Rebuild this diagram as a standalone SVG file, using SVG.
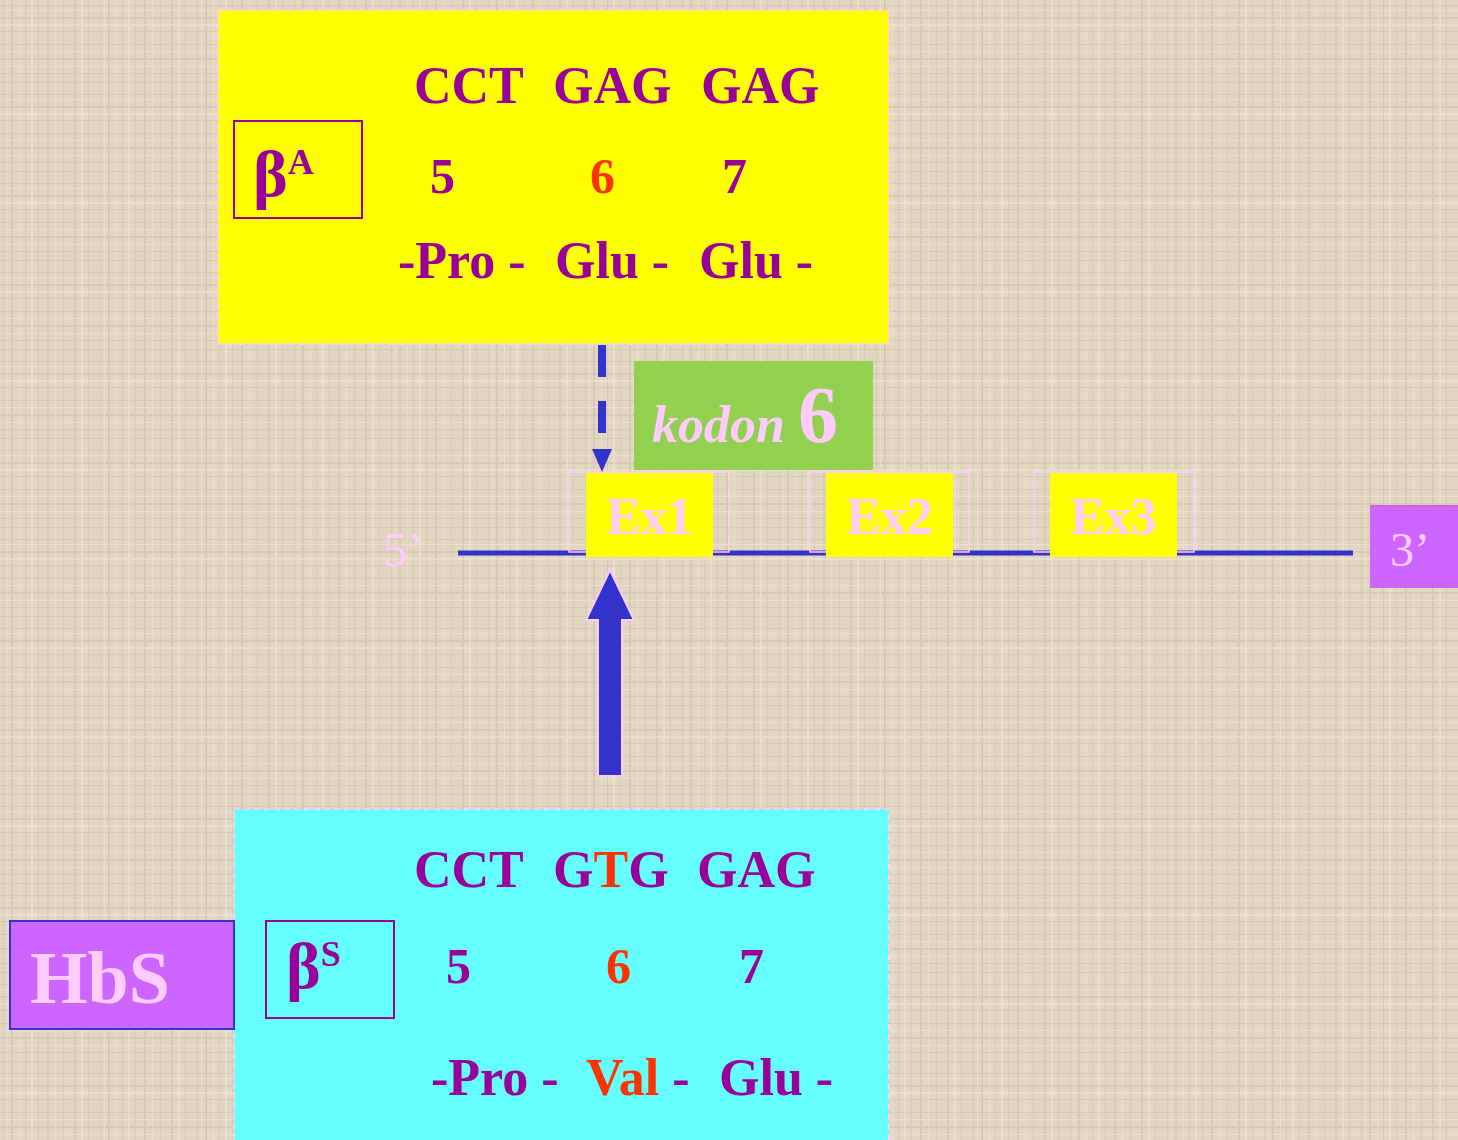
<svg xmlns="http://www.w3.org/2000/svg" width="1458" height="1140" viewBox="0 0 1458 1140">
  <defs>
    <!-- woven canvas texture for the backdrop -->
    <pattern id="canvas" width="97" height="89" patternUnits="userSpaceOnUse">
      <rect width="97" height="89" fill="#E2D7C0"/>
      <g fill="#C4B79C" opacity="0.4">
        <rect x="3" y="0" width="1" height="89"/>
        <rect x="11" y="0" width="2" height="89"/>
        <rect x="25" y="0" width="1" height="89"/>
        <rect x="38" y="0" width="1" height="89"/>
        <rect x="47" y="0" width="2" height="89"/>
        <rect x="63" y="0" width="1" height="89"/>
        <rect x="74" y="0" width="2" height="89"/>
        <rect x="88" y="0" width="1" height="89"/>
        <rect x="0" y="5" width="97" height="1"/>
        <rect x="0" y="17" width="97" height="2"/>
        <rect x="0" y="31" width="97" height="1"/>
        <rect x="0" y="44" width="97" height="1"/>
        <rect x="0" y="58" width="97" height="2"/>
        <rect x="0" y="73" width="97" height="1"/>
        <rect x="0" y="82" width="97" height="1"/>
      </g>
      <g fill="#F2EADA" opacity="0.5">
        <rect x="7" y="0" width="1" height="89"/>
        <rect x="19" y="0" width="1" height="89"/>
        <rect x="31" y="0" width="2" height="89"/>
        <rect x="55" y="0" width="1" height="89"/>
        <rect x="81" y="0" width="2" height="89"/>
        <rect x="0" y="10" width="97" height="1"/>
        <rect x="0" y="24" width="97" height="2"/>
        <rect x="0" y="51" width="97" height="1"/>
        <rect x="0" y="66" width="97" height="1"/>
      </g>
    </pattern>
    <style>
      .seq { font-family: "Liberation Serif", "Times New Roman", serif; font-weight: bold; fill: #990099; }
      .hot { fill: #FF3300; }
      .pink { fill: #FFCCFF; }
      .serif { font-family: "Liberation Serif", "Times New Roman", serif; }
      .panel-border { fill: none; stroke: #FFCCFF; stroke-width: 2; stroke-dasharray: 6 4; }
      .allele { fill: none; stroke: #990099; stroke-width: 2; }
      .exon { fill: #FFFF00; }
      .exon-frame { fill: none; stroke: #FFCCFF; stroke-width: 1.5; }
    </style>
  </defs>

  <rect width="1458" height="1140" fill="url(#canvas)"/>

  <!-- normal beta-globin allele -->
  <g id="betaA">
    <rect x="218" y="10" width="671" height="334" fill="#FFFF00"/>
    <rect x="218" y="10" width="671" height="334" class="panel-border"/>
    <rect x="234" y="121" width="128" height="97" class="allele"/>
    <text class="seq" x="253" y="196" font-size="66">β<tspan font-size="36" dy="-22">A</tspan></text>
    <g class="seq" font-size="52">
      <text x="414" y="103">CCT</text>
      <text x="553" y="103">GAG</text>
      <text x="701" y="103">GAG</text>
    </g>
    <g class="seq" font-size="50">
      <text x="430" y="193">5</text>
      <text x="590" y="193" class="hot">6</text>
      <text x="722" y="193">7</text>
    </g>
    <g class="seq" font-size="52">
      <text x="398" y="278">-Pro -</text>
      <text x="555" y="278">Glu -</text>
      <text x="699" y="278">Glu -</text>
    </g>
  </g>

  <!-- codon label -->
  <g id="kodon">
    <rect x="634" y="361" width="239" height="109" fill="#92D050"/>
    <text class="serif pink" x="652" y="442" font-size="52" font-style="italic" font-weight="bold">kodon <tspan font-style="normal" font-weight="bold" font-size="80">6</tspan></text>
  </g>

  <!-- gene with three exons -->
  <g id="gene">
    <line x1="458" y1="553" x2="1353" y2="553" stroke="#3333CC" stroke-width="5"/>
    <text class="serif pink" x="383" y="566" font-size="48">5’</text>
  </g>
  <g id="ex1">
    <rect x="569" y="472" width="160" height="80" class="exon-frame"/>
    <rect x="586" y="473" width="127" height="84" class="exon"/>
    <text class="seq pink" x="649.5" y="534" font-size="52" text-anchor="middle">Ex1</text>
  </g>
  <g id="ex2">
    <rect x="810" y="472" width="159" height="80" class="exon-frame"/>
    <rect x="826" y="473" width="127" height="84" class="exon"/>
    <text class="seq pink" x="889.5" y="534" font-size="52" text-anchor="middle">Ex2</text>
  </g>
  <g id="ex3">
    <rect x="1034" y="472" width="160" height="80" class="exon-frame"/>
    <rect x="1050" y="473" width="127" height="84" class="exon"/>
    <text class="seq pink" x="1113.5" y="534" font-size="52" text-anchor="middle">Ex3</text>
  </g>
  <g id="end3">
    <rect x="1370" y="505" width="88" height="83" fill="#CC66FF"/>
    <text class="serif pink" x="1390" y="566" font-size="48">3’</text>
  </g>

  <!-- connectors -->
  <g id="connectors">
    <path d="M602,345 V449" stroke="#3333CC" stroke-width="8" stroke-dasharray="32 24" fill="none"/>
    <path d="M592,449 L612,449 L602,472 Z" fill="#3333CC"/>
    <path d="M610,570 L634,620 L622,620 L622,776 L598,776 L598,620 L586,620 Z" fill="#3333CC" stroke="#FFCCFF" stroke-width="2" stroke-linejoin="miter"/>
  </g>

  <!-- sickle-cell allele -->
  <g id="betaS">
    <rect x="234" y="809" width="655" height="331" fill="#66FFFF"/>
    <rect x="234" y="809" width="655" height="340" class="panel-border"/>
    <rect x="266" y="921" width="128" height="97" class="allele"/>
    <text class="seq" x="286" y="988" font-size="66">β<tspan font-size="36" dy="-22">S</tspan></text>
    <g class="seq" font-size="52">
      <text x="414" y="887">CCT</text>
      <text x="553" y="887">G<tspan class="hot">T</tspan>G</text>
      <text x="697" y="887">GAG</text>
    </g>
    <g class="seq" font-size="50">
      <text x="446" y="983">5</text>
      <text x="606" y="983" class="hot">6</text>
      <text x="739" y="983">7</text>
    </g>
    <g class="seq" font-size="52">
      <text x="431" y="1095">-Pro -</text>
      <text x="586" y="1095"><tspan class="hot">Val</tspan> -</text>
      <text x="719" y="1095">Glu -</text>
    </g>
  </g>

  <g id="hbs">
    <rect x="10" y="921" width="224" height="108" fill="#CC66FF" stroke="#3333CC" stroke-width="2"/>
    <text class="seq pink" x="30" y="1003" font-size="74">HbS</text>
  </g>
</svg>
